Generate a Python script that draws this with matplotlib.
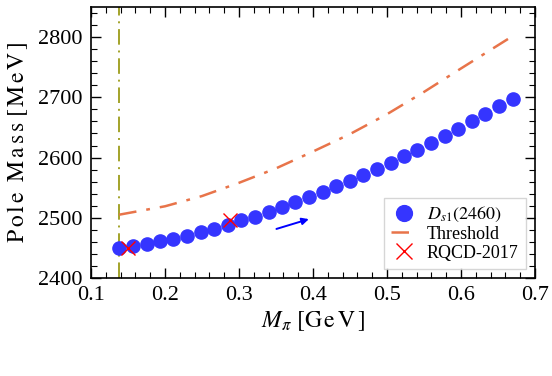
import numpy as np
import matplotlib
matplotlib.use('Agg')
import matplotlib.pyplot as plt

plt.rcParams['font.family'] = ['Liberation Serif', 'DejaVu Serif']
plt.rcParams['mathtext.fontset'] = 'stix'

# pole mass of D_s1(2460) vs pion mass
m_pi = [0.138, 0.156, 0.175, 0.193, 0.211, 0.230, 0.248, 0.266, 0.285, 0.303,
        0.321, 0.340, 0.358, 0.376, 0.395, 0.413, 0.431, 0.450, 0.468, 0.486,
        0.505, 0.523, 0.541, 0.560, 0.578, 0.596, 0.615, 0.633, 0.651, 0.670]
pole = [2449, 2453, 2456, 2461, 2465, 2470, 2476, 2482, 2488, 2496,
        2502, 2510, 2517, 2526, 2534, 2543, 2552, 2561, 2571, 2581,
        2591, 2602, 2613, 2625, 2636, 2648, 2660, 2672, 2685, 2697]

# D* K threshold
thr_x = [0.138, 0.2, 0.25, 0.3, 0.35, 0.4, 0.45, 0.5, 0.55, 0.6, 0.67]
thr_y = [2505, 2519, 2536, 2558, 2582, 2610, 2639, 2672, 2709, 2748, 2802]

# RQCD-2017 lattice points
rqcd_x = [0.150, 0.288]
rqcd_y = [2450, 2496]

phys_mpi = 0.138

fig = plt.figure(figsize=(5.52, 3.76), dpi=100)
ax = fig.add_axes([0.165, 0.261, 0.804, 0.720])

ax.axvline(phys_mpi, color='#a3a32a', lw=1.4, ls=(0, (8, 3, 1, 3)))
ax.plot(m_pi, pole, 'o', color='#3535ff', ms=9.5, label=r'$D_{s1}(2460)$', zorder=3)
ax.plot(thr_x, thr_y, color='#e8744a', lw=1.8, ls=(0, (7, 4, 1.5, 4)), label='Threshold')
ax.plot(rqcd_x, rqcd_y, 'x', color='red', ms=10, mew=1.0, label='RQCD-2017', zorder=4)

ax.annotate('', xy=(0.398, 2499), xytext=(0.347, 2480),
            arrowprops=dict(arrowstyle='-|>', color='blue', lw=1.4, mutation_scale=10))

ax.set_xlim(0.1, 0.7)
ax.set_ylim(2400, 2850)
ax.set_xticks([0.1, 0.2, 0.3, 0.4, 0.5, 0.6, 0.7])
ax.set_yticks([2400, 2500, 2600, 2700, 2800])
ax.set_xticks(np.arange(0.1, 0.701, 0.02), minor=True)
ax.set_yticks(np.arange(2400, 2851, 20), minor=True)
ax.tick_params(which='both', direction='in', top=True, right=True, labelsize=16)
ax.tick_params(which='major', length=7, width=1, pad=6)
ax.tick_params(which='minor', length=4, width=0.8)
for s in ax.spines.values():
    s.set_linewidth(1.2)

ax.set_xlabel(r'$M_{\pi}\ \mathrm{[G\,e\,V\,]}$', fontsize=17, labelpad=3)
ax.set_ylabel(r'$\mathrm{P\,o\,l\,e\ \ M\,a\,s\,s\ [\,M\,e\,V\,]}$', fontsize=17, labelpad=6)

leg = ax.legend(loc='lower right', fontsize=13, fancybox=False, edgecolor='#cccccc',
                handlelength=1.5, handletextpad=0.5, borderpad=0.4, labelspacing=0.1,
                borderaxespad=0.5, markerscale=1.2)
leg.get_frame().set_linewidth(1.0)

fig.savefig('out.png', dpi=100)
